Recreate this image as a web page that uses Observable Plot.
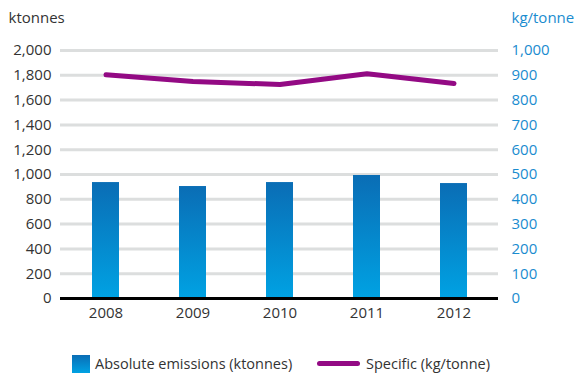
<!DOCTYPE html>
<html>
<head>
<meta charset="utf-8">
<script src="https://cdn.jsdelivr.net/npm/d3@7"></script>
<script src="https://cdn.jsdelivr.net/npm/@observablehq/plot@0.6"></script>
<style>
  html, body { margin: 0; padding: 0; background: #fff; }
  body { width: 574px; height: 376px; font-family: "Open Sans", "Noto Sans", sans-serif; }
  #chart svg { display: block; }
  .legend { position: relative; height: 36px; font-size: 14.5px; color: #333; }
  .legend .item { position: absolute; top: 14px; display: flex; align-items: center; }
  .swatch-bar { width: 18px; height: 18px; background: linear-gradient(#0a6db5, #00a2e3); margin-right: 5px; }
  .swatch-line { width: 43px; height: 5px; border-radius: 3px; background: #930a84; margin-right: 6px; }
</style>
</head>
<body>
<div id="chart"></div>
<div class="legend">
  <div class="item" style="left:72px"><span class="swatch-bar"></span>Absolute emissions (ktonnes)</div>
  <div class="item" style="left:317px"><span class="swatch-line"></span>Specific (kg/tonne)</div>
</div>
<script>
// Emissions by year: absolute (ktonnes, left axis) and specific (kg/tonne, right axis)
const years = ["2008", "2009", "2010", "2011", "2012"];
const absolute = [935, 903, 935, 992, 927];
const specific = [902, 875, 863, 906, 867];
const leftTicks = [0, 200, 400, 600, 800, 1000, 1200, 1400, 1600, 1800, 2000];

// the right axis runs 0–1,000 over the same height as 0–2,000 on the left
const ratio = 2;

const rows = years.map((year, i) => ({year, absolute: absolute[i], specific: specific[i]}));

const blue = "#1a8ccf";
const grid = "#dcdede";
const fs = 15;

const plot = Plot.plot({
  width: 574,
  height: 340,
  marginLeft: 60,
  marginRight: 76,
  marginTop: 50,
  marginBottom: 42,
  style: {fontFamily: "'Open Sans', 'Noto Sans', sans-serif", fontSize: "15px", color: "#333", background: "#fff"},
  x: {domain: years, paddingInner: 0.69, paddingOuter: 0.345, label: null},
  y: {domain: [0, 2000], label: null},
  marks: [
    Plot.gridY(leftTicks, {stroke: grid, strokeOpacity: 1, strokeWidth: 3}),
    Plot.barY(rows, {x: "year", y: "absolute", fill: "url(#barGradient)"}),
    Plot.ruleY([0], {stroke: "#000", strokeWidth: 3}),
    Plot.lineY(rows, {x: "year", y: d => d.specific * ratio, stroke: "#930a84", strokeWidth: 5, strokeLinecap: "round", strokeLinejoin: "round"}),
    Plot.axisX({tickSize: 0, tickPadding: 9, fontSize: fs, fill: "#333", label: null}),
    Plot.axisY(leftTicks, {anchor: "left", tickSize: 0, tickPadding: 9, fontSize: fs, fill: "#333", tickFormat: d3.format(","), label: null}),
    Plot.axisY(leftTicks, {anchor: "right", tickSize: 0, tickPadding: 13, fontSize: fs, fill: blue, tickFormat: d => d3.format(",")(d / ratio), label: null}),
    Plot.text(["ktonnes"], {frameAnchor: "top-left", dx: -52, dy: -38, textAnchor: "start", fontSize: fs, fill: "#333"}),
    Plot.text(["kg/tonne"], {frameAnchor: "top-right", dx: 13, dy: -38, textAnchor: "start", fontSize: fs, fill: blue})
  ]
});

// vertical gradient shared by the bars
const ns = "http://www.w3.org/2000/svg";
const defs = document.createElementNS(ns, "defs");
const grad = document.createElementNS(ns, "linearGradient");
grad.setAttribute("id", "barGradient");
grad.setAttribute("x1", "0"); grad.setAttribute("y1", "0");
grad.setAttribute("x2", "0"); grad.setAttribute("y2", "1");
[["0", "#0a6db5"], ["1", "#00a2e3"]].forEach(([offset, color]) => {
  const stop = document.createElementNS(ns, "stop");
  stop.setAttribute("offset", offset);
  stop.setAttribute("stop-color", color);
  grad.appendChild(stop);
});
defs.appendChild(grad);
plot.insertBefore(defs, plot.firstChild);

document.getElementById("chart").appendChild(plot);
</script>
</body>
</html>
